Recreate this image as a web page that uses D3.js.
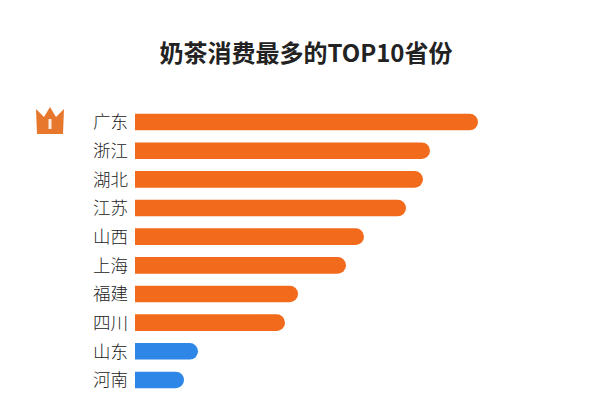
<!DOCTYPE html><html><head><meta charset="utf-8"><script src="https://cdn.jsdelivr.net/npm/d3@7"></script>
<style>body{margin:0;background:#fff}</style></head><body><svg id="c" width="611" height="417"></svg>
<script>
const categories=["广东","浙江","湖北","江苏","山西","上海","福建","四川","山东","河南"];
const values=[343,295,288,271,229,211,163,150,63,49];
const groups=["o","o","o","o","o","o","o","o","b","b"];
const svg=d3.select("#c");
const font="'Noto Sans CJK SC',sans-serif";
svg.append("text").attr("x",306).attr("y",62).attr("text-anchor","middle").attr("font-family",font).attr("font-size",24).attr("font-weight","bold").attr("fill","#222").text("奶茶消费最多的TOP10省份");
const x=d3.scaleLinear().domain([0,343]).range([135,478]);
const y=d3.scaleBand().domain(categories).range([108,394]).paddingInner(0.42).paddingOuter(0.2);
const col={o:"#F26A1B",b:"#2E86E6"};
const h=y.bandwidth();
const g=svg.append("g");
categories.forEach((c,i)=>{
  const y0=y(c),w=x(values[i])-x(0),r=h/2;
  g.append("path").attr("fill",col[groups[i]])
   .attr("d",`M${x(0)},${y0}H${x(0)+w-r}A${r},${r} 0 0 1 ${x(0)+w-r},${y0+h}H${x(0)}Z`);
  g.append("text").attr("x",128).attr("y",y0+h/2).attr("dy","0.36em").attr("text-anchor","end").attr("font-family",font).attr("font-size",17.5).attr("font-weight",300).attr("fill","#222").text(c);
});
const cy=y(categories[0])+h/2;
svg.append("path").attr("fill","#E8772E").attr("d",`M36,${cy-13}L44,${cy-5}L50,${cy-15}L56,${cy-5}L64,${cy-13}L63,${cy+12}L37,${cy+12}Z`);
svg.append("rect").attr("x",48.5).attr("y",cy-3).attr("width",3).attr("height",10).attr("fill","#fff").attr("opacity",0.85);
</script></body></html>
